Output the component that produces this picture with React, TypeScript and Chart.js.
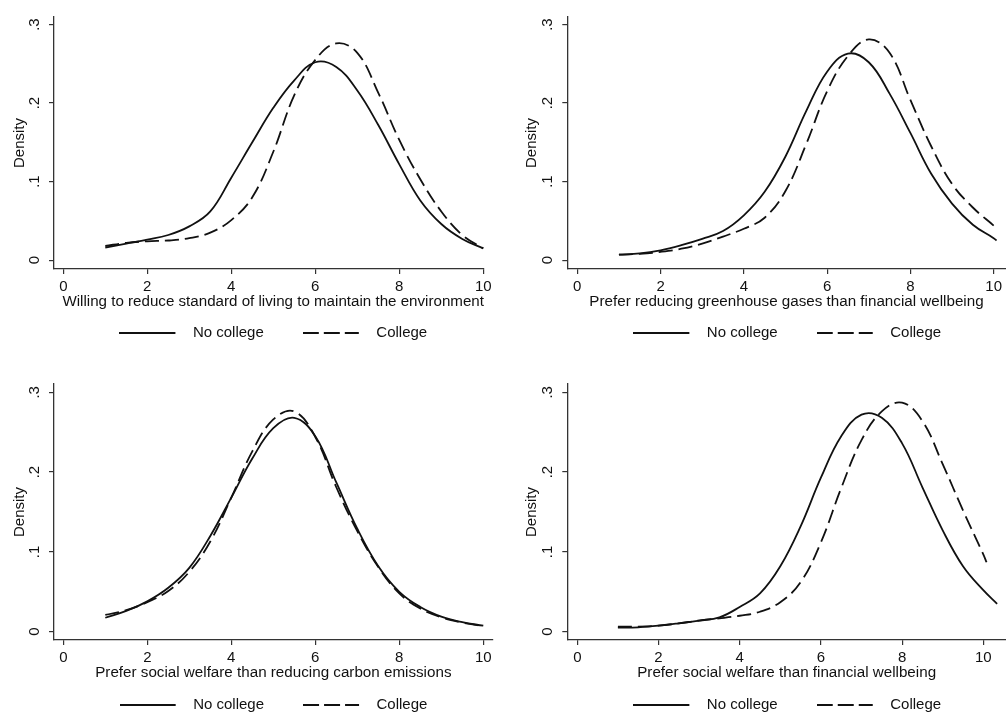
import React, { useEffect, useRef } from 'react';
import { Chart, registerables } from 'chart.js';

Chart.register(...registerables);

// ---------- data ----------
const xTicks = [0, 2, 4, 6, 8, 10];
const yTicks = [0, 0.1, 0.2, 0.3];
const seriesLabels = ['No college', 'College'];
const yTitle = 'Density';
const xTitles = [
  'Willing to reduce standard of living to maintain the environment',
  'Prefer reducing greenhouse gases than financial wellbeing',
  'Prefer social welfare than reducing carbon emissions',
  'Prefer social welfare than financial wellbeing',
];

const grid = [1, 1.5, 2, 2.5, 3, 3.5, 4, 4.5, 5, 5.5, 6, 6.5, 7, 7.5, 8, 8.5, 9, 9.5, 10];

// Panel 1
const p1NoCollegeX = grid;
const p1NoCollege = [0.016, 0.021, 0.026, 0.032, 0.043, 0.062, 0.105, 0.15, 0.194, 0.229, 0.252, 0.246, 0.216, 0.172, 0.122, 0.076, 0.046, 0.027, 0.015];
const p1CollegeX = grid;
const p1College = [0.018, 0.022, 0.024, 0.025, 0.028, 0.035, 0.051, 0.08, 0.138, 0.21, 0.255, 0.276, 0.264, 0.213, 0.153, 0.103, 0.062, 0.032, 0.015];

// Panel 2
const p2NoCollegeX = [...grid, 10.07];
const p2NoCollege = [0.007, 0.0085, 0.0125, 0.019, 0.027, 0.037, 0.057, 0.087, 0.132, 0.19, 0.24, 0.263, 0.252, 0.212, 0.162, 0.11, 0.072, 0.045, 0.028, 0.025];
const p2CollegeX = grid;
const p2College = [0.007, 0.008, 0.0105, 0.0145, 0.021, 0.03, 0.04, 0.054, 0.088, 0.148, 0.215, 0.26, 0.281, 0.264, 0.204, 0.145, 0.097, 0.067, 0.044];

// Panel 3
const p3NoCollegeX = grid;
const p3NoCollege = [0.0175, 0.026, 0.038, 0.055, 0.08, 0.12, 0.168, 0.217, 0.255, 0.268, 0.245, 0.187, 0.129, 0.082, 0.05, 0.031, 0.019, 0.012, 0.0075];
const p3CollegeX = grid;
const p3College = [0.021, 0.027, 0.037, 0.051, 0.075, 0.113, 0.168, 0.226, 0.266, 0.276, 0.244, 0.181, 0.126, 0.081, 0.048, 0.029, 0.018, 0.0115, 0.007];

// Panel 4
const p4NoCollegeX = [...grid, 10.34];
const p4NoCollege = [0.005, 0.0055, 0.0075, 0.0105, 0.014, 0.018, 0.031, 0.048, 0.082, 0.132, 0.193, 0.245, 0.272, 0.268, 0.236, 0.181, 0.127, 0.082, 0.052, 0.035];
const p4CollegeX = [...grid, 10.08];
const p4College = [0.0063, 0.0063, 0.0075, 0.0105, 0.014, 0.0167, 0.02, 0.025, 0.037, 0.062, 0.112, 0.18, 0.24, 0.276, 0.287, 0.264, 0.21, 0.152, 0.097, 0.087];

// ---------- styling / layout ----------
const FONT = "'Liberation Sans', Arial, Helvetica, sans-serif";
const INK = '#111';
const AXIS = '#333';
const CURVE_DASH = [14, 6];
const ICON_DASH = [16, 5];
const LINE_W = 1.8;

type Panel = {
  left: number; top: number; width: number; height: number;
  pad: { left: number; right: number; top: number; bottom: number };
  yWidth: number;
  xMin: number; xMax: number; yMin: number; yMax: number;
  legendCx: number; legendCy: number;
  title: string;
  solid: [number[], number[]];
  dashed: [number[], number[]];
};

const panels: Panel[] = [
  {
    left: 0, top: 0, width: 500, height: 360,
    pad: { left: 0, right: 16, top: 13, bottom: 29.5 }, yWidth: 54,
    xMin: -0.2214, xMax: 10.017, yMin: -0.0113, yMax: 0.3096,
    legendCx: 273.3, legendCy: 333, title: '\u00A0\u00A0' + xTitles[0],
    solid: [p1NoCollegeX, p1NoCollege], dashed: [p1CollegeX, p1College],
  },
  {
    left: 500, top: 0, width: 506, height: 360,
    pad: { left: 12, right: 0, top: 13, bottom: 29.5 }, yWidth: 55.3,
    xMin: -0.24, xMax: 10.288, yMin: -0.0113, yMax: 0.3096,
    legendCx: 287.2, legendCy: 333, title: xTitles[1],
    solid: [p2NoCollegeX, p2NoCollege], dashed: [p2CollegeX, p2College],
  },
  {
    left: 0, top: 360, width: 500, height: 359,
    pad: { left: 0, right: 7.3, top: 24, bottom: 17.5 }, yWidth: 54,
    xMin: -0.2214, xMax: 10.224, yMin: -0.0104, yMax: 0.3104,
    legendCx: 273.5, legendCy: 345, title: xTitles[2],
    solid: [p3NoCollegeX, p3NoCollege], dashed: [p3CollegeX, p3College],
  },
  {
    left: 500, top: 360, width: 506, height: 359,
    pad: { left: 12, right: 0, top: 24, bottom: 17.5 }, yWidth: 55.3,
    xMin: -0.2463, xMax: 10.559, yMin: -0.0104, yMax: 0.3104,
    legendCx: 287.2, legendCy: 345, title: xTitles[3],
    solid: [p4NoCollegeX, p4NoCollege], dashed: [p4CollegeX, p4College],
  },
];

const LEGEND_PAD = 39;
const LEGEND_FONT = 15;

function makeIcon(dash: number[]) {
  const c = document.createElement('canvas');
  c.width = 66;
  c.height = 6;
  const ctx = c.getContext('2d')!;
  ctx.strokeStyle = INK;
  ctx.lineWidth = LINE_W;
  ctx.setLineDash(dash);
  ctx.beginPath();
  ctx.moveTo(0, 3);
  ctx.lineTo(56, 3);
  ctx.stroke();
  return c;
}

const legendShift = {
  id: 'legendShift',
  afterLayout(chart: any, _args: any, opts: any) {
    const lg = chart.legend;
    if (!lg) return;
    const w = lg.right - lg.left;
    const curCx = (lg.left + lg.right) / 2;
    const dx = opts.cx - curCx;
    lg.left += dx;
    lg.right = lg.left + w;
    lg.top = opts.cy - LEGEND_PAD - LEGEND_FONT / 2;
    lg.bottom = opts.cy + LEGEND_FONT;
    lg.height = lg.bottom - lg.top;
  },
};

function toPoints(xs: number[], ys: number[]) {
  return xs.map((x, i) => ({ x, y: ys[i] }));
}

function PanelChart({ p }: { p: Panel }) {
  const ref = useRef<HTMLCanvasElement>(null);
  useEffect(() => {
    const icons = [makeIcon([]), makeIcon(ICON_DASH)];
    const font = { family: FONT, size: 15 };
    const chart = new Chart(ref.current!, {
      type: 'line',
      data: {
        datasets: [
          {
            label: seriesLabels[0],
            data: toPoints(p.solid[0], p.solid[1]),
            borderColor: INK,
            borderWidth: LINE_W,
            pointRadius: 0,
            fill: false,
            tension: 0.4,
          },
          {
            label: seriesLabels[1],
            data: toPoints(p.dashed[0], p.dashed[1]),
            borderColor: INK,
            borderWidth: LINE_W,
            borderDash: CURVE_DASH,
            pointRadius: 0,
            fill: false,
            tension: 0.4,
          },
        ],
      },
      options: {
        animation: false,
        responsive: false,
        events: [],
        layout: { padding: p.pad },
        scales: {
          x: {
            type: 'linear',
            min: p.xMin,
            max: p.xMax,
            afterBuildTicks: (s: any) => { s.ticks = xTicks.map((v) => ({ value: v })); },
            afterFit: (s: any) => { s.height = 41.5; },
            ticks: {
              callback: (v: any) => String(v),
              font, color: INK, padding: 4, maxRotation: 0, minRotation: 0, autoSkip: false,
            },
            grid: { drawOnChartArea: false, drawTicks: true, tickLength: 5, color: AXIS, lineWidth: 1.2 },
            border: { display: true, color: AXIS, width: 1.3 },
            title: { display: true, text: p.title, font: { family: FONT, size: 15.2 }, color: INK, padding: { top: 0, bottom: 0 } },
          },
          y: {
            type: 'linear',
            min: p.yMin,
            max: p.yMax,
            afterBuildTicks: (s: any) => { s.ticks = yTicks.map((v) => ({ value: v })); },
            afterFit: (s: any) => { s.width = p.yWidth; },
            ticks: {
              callback: (v: any) => (v === 0 ? '0' : '.' + Math.round(Number(v) * 10)),
              font, color: INK, padding: 8, minRotation: 90, maxRotation: 90, crossAlign: 'center', autoSkip: false,
            },
            grid: { drawOnChartArea: false, drawTicks: true, tickLength: 5, color: AXIS, lineWidth: 1.2 },
            border: { display: true, color: AXIS, width: 1.3 },
            title: { display: true, text: yTitle, font, color: INK, padding: { top: 11, bottom: 0 } },
          },
        },
        plugins: {
          tooltip: { enabled: false },
          legend: {
            display: true,
            position: 'bottom',
            maxHeight: 20,
            labels: {
              usePointStyle: true,
              pointStyleWidth: 66,
              padding: LEGEND_PAD,
              font: { family: FONT, size: LEGEND_FONT },
              color: INK,
              generateLabels: (ch: any) =>
                ch.data.datasets.map((ds: any, i: number) => ({
                  text: ds.label,
                  pointStyle: icons[i],
                  datasetIndex: i,
                  hidden: false,
                  lineWidth: 0,
                  fillStyle: 'rgba(0,0,0,0)',
                  strokeStyle: 'rgba(0,0,0,0)',
                  fontColor: INK,
                })),
            },
          },
          legendShift: { cx: p.legendCx, cy: p.legendCy },
        } as any,
      } as any,
      plugins: [legendShift as any],
    });
    return () => chart.destroy();
  }, [p]);
  return (
    <canvas
      ref={ref}
      width={p.width}
      height={p.height}
      style={{ position: 'absolute', left: p.left, top: p.top, width: p.width, height: p.height, display: 'block' }}
    />
  );
}

export default function App() {
  return (
    <div
      style={{
        position: 'absolute', left: 0, top: 0, width: 1006, height: 719,
        overflow: 'hidden', background: '#fff',
      }}
    >
      {panels.map((p, i) => (
        <PanelChart key={i} p={p} />
      ))}
    </div>
  );
}
